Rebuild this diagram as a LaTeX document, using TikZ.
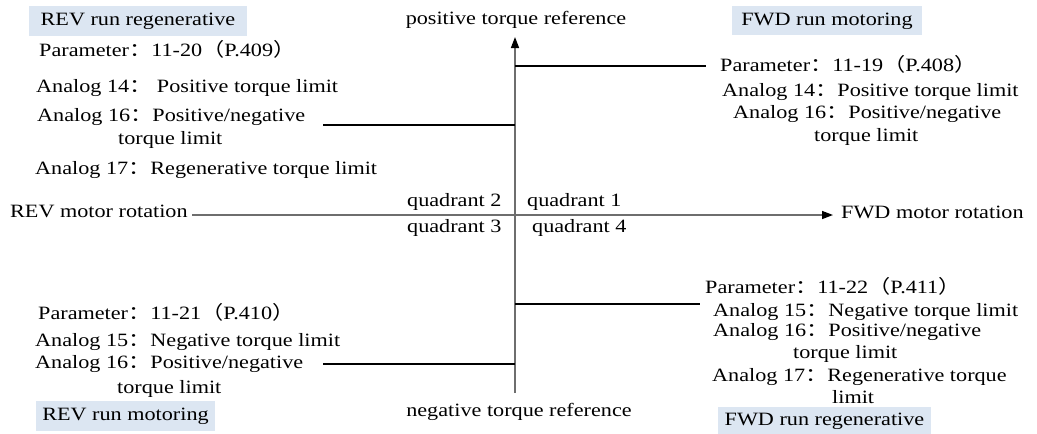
\documentclass[tikz,border=0pt]{standalone}
\usepackage{fontspec}
\setmainfont{Liberation Serif}
\newfontfamily\cjk{Noto Sans CJK SC}
\usepackage{graphicx}
\usetikzlibrary{arrows.meta}
\newcommand\Cc{{\cjk ：}}
\newcommand\Lp{{\cjk （}}
\newcommand\Rp{{\cjk ）}}
\newcommand\T[1]{\scalebox{1.18}[1]{#1}}
\definecolor{boxfill}{HTML}{DCE6F2}
\definecolor{axisgray}{HTML}{6E6E6E}
\tikzset{
  lbl/.style={font=\fontsize{18.8}{22}\selectfont, inner sep=0pt, anchor=west, text height=13pt, text depth=4pt},
  ctr/.style={lbl, anchor=center},
  tagbox/.style={font=\fontsize{18.8}{22}\selectfont, fill=boxfill, inner sep=0pt, text height=13pt, text depth=4pt},
  axisline/.style={draw=axisgray, line width=1.5pt},
  branch/.style={draw=black, line width=1.4pt},
  tip/.style={-{Triangle[length=11pt,width=8pt,color=black]}}
}
\begin{document}
\begin{tikzpicture}[x=1pt,y=-1pt]
\useasboundingbox (0,0) rectangle (1037,434);

% tag boxes
\node[tagbox, minimum width=218pt, minimum height=30pt] (revregen) at (138,21) {\T{REV run regenerative}};
\node[tagbox, minimum width=190pt, minimum height=29pt] (fwdmot) at (827,20.5) {\T{FWD run motoring}};
\node[tagbox, minimum width=179pt, minimum height=30pt] (revmot) at (125.5,416) {\T{REV run motoring}};
\node[tagbox, minimum width=213pt, minimum height=28pt] (fwdregen) at (824.5,421) {\T{FWD run regenerative}};

% axes
\coordinate (vbot) at (515,393);
\coordinate (vtop) at (515,37);
\coordinate (hleft) at (192,215);
\coordinate (hright) at (833,215);
\draw[axisline, tip] (vbot) -- (vtop);
\draw[axisline, tip] (hleft) -- (hright);

\node[ctr] (posref) at (516,20) {\T{positive torque reference}};
\node[ctr] (negref) at (519,412) {\T{negative torque reference}};
\node[lbl] (revrot) at (10,213) {\T{REV motor rotation}};
\node[lbl] (fwdrot) at (841,214) {\T{FWD motor rotation}};

\node[lbl] (q2) at (407,202) {\T{quadrant 2}};
\node[lbl] (q1) at (527,202) {\T{quadrant 1}};
\node[lbl] (q3) at (407,228) {\T{quadrant 3}};
\node[lbl] (q4) at (532,228) {\T{quadrant 4}};

% quadrant 2 block
\node[lbl] (p2) at (39,52) {\T{Parameter\Cc 11-20\Lp P.409\Rp}};
\node[lbl] (a14l) at (36,88) {\T{Analog 14\Cc\ Positive torque limit}};
\node[lbl] (a16l) at (37,117) {\T{Analog 16\Cc Positive/negative}};
\node[lbl] (t16l) at (118,140) {\T{torque limit}};
\node[lbl] (a17l) at (35,170) {\T{Analog 17\Cc Regenerative torque limit}};
\coordinate (b2s) at (323,125);
\coordinate (b2e) at (515,125);
\draw[branch] (b2s) -- (b2e);

% quadrant 1 block
\coordinate (b1s) at (515,66);
\coordinate (b1e) at (706,66);
\draw[branch] (b1s) -- (b1e);
\node[lbl] (p1) at (720,67) {\T{Parameter\Cc 11-19\Lp P.408\Rp}};
\node[lbl] (a14r) at (722,92) {\T{Analog 14\Cc Positive torque limit}};
\node[lbl] (a16r) at (733,114) {\T{Analog 16\Cc Positive/negative}};
\node[lbl] (t16r) at (814,137) {\T{torque limit}};

% quadrant 4 block
\coordinate (b4s) at (515,304);
\coordinate (b4e) at (700,304);
\draw[branch] (b4s) -- (b4e);
\node[lbl] (p4) at (705,289) {\T{Parameter\Cc 11-22\Lp P.411\Rp}};
\node[lbl, text depth=1pt] (a15r) at (713,310) {\T{Analog 15\Cc Negative torque limit}};
\node[lbl, text height=12pt] (a16r4) at (713,332) {\T{Analog 16\Cc Positive/negative}};
\node[lbl] (t16r4) at (793,354) {\T{torque limit}};
\node[lbl] (a17r) at (712,377) {\T{Analog 17\Cc Regenerative torque}};
\node[lbl] (lim) at (832,399) {\T{limit}};

% quadrant 3 block
\node[lbl] (p3) at (38,315) {\T{Parameter\Cc 11-21\Lp P.410\Rp}};
\node[lbl] (a15l) at (35,342) {\T{Analog 15\Cc Negative torque limit}};
\node[lbl] (a16l3) at (35,364) {\T{Analog 16\Cc Positive/negative}};
\node[lbl] (t16l3) at (117,389) {\T{torque limit}};
\coordinate (b3s) at (323,364);
\coordinate (b3e) at (515,364);
\draw[branch] (b3s) -- (b3e);
\end{tikzpicture}
\end{document}
